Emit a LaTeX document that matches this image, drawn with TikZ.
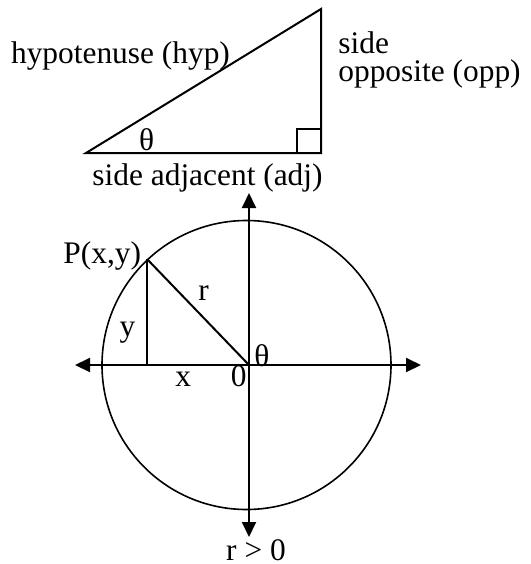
\documentclass[tikz,border=0pt]{standalone}
\usepackage{fontspec}
\setmainfont{Liberation Serif}
\usetikzlibrary{arrows.meta}

\begin{document}
\begin{tikzpicture}[x=0.5pt,y=-0.5pt,
    every node/.style={font=\fontsize{15.7}{18}\selectfont, inner sep=0pt},
    side/.style={line width=1pt},
    axisline/.style={line width=1pt, {Triangle[length=7.5pt,width=7pt]}-{Triangle[length=7.5pt,width=7pt]}}]
  \useasboundingbox (0,0) rectangle (531,564);
  % right triangle
  \coordinate (adjL) at (86,153);
  \coordinate (rtC) at (321,153);
  \coordinate (topC) at (321,9);
  \draw[side] (adjL) -- (rtC) -- (topC) -- cycle;
  \draw[side] (297,153) -- (297,129) -- (321,129);
  \node[anchor=base] (hypLbl) at (120.5,63) {hypotenuse (hyp)};
  \node[anchor=base west] (sideLbl) at (338,53.3) {side};
  \node[anchor=base west] (oppLbl) at (338,81.7) {opposite (opp)};
  \node[anchor=base] (thetaT) at (146.7,150) {θ};
  \node[anchor=base] (adjLbl) at (207.5,185) {side adjacent (adj)};
  % circle and axes
  \coordinate (O) at (249,365);
  \draw[line width=0.8pt] (246.5,365) circle[radius=144.5];
  \coordinate (xL) at (75,365);
  \coordinate (xR) at (421,365);
  \coordinate (yT) at (249,193);
  \coordinate (yB) at (249,537);
  \draw[axisline] (xL) -- (xR);
  \draw[axisline] (yT) -- (yB);
  \coordinate (P) at (147.3,259.3);
  \draw[side] (P) -- (O);
  \draw[side] (P) -- (P |- O);
  \node[anchor=base west] (pLbl) at (63,263) {P(x,y)};
  \node[anchor=base] (rLbl) at (203.7,300) {r};
  \node[anchor=base] (yLbl) at (127.5,336.7) {y};
  \node[anchor=base] (xLbl) at (183.3,386.7) {x};
  \node[anchor=base] (zeroLbl) at (238.7,386.7) {0};
  \node[anchor=base] (thetaC) at (261.8,366.7) {θ};
  \node[anchor=base] (rPos) at (256,560) {r > 0};
\end{tikzpicture}
\end{document}
